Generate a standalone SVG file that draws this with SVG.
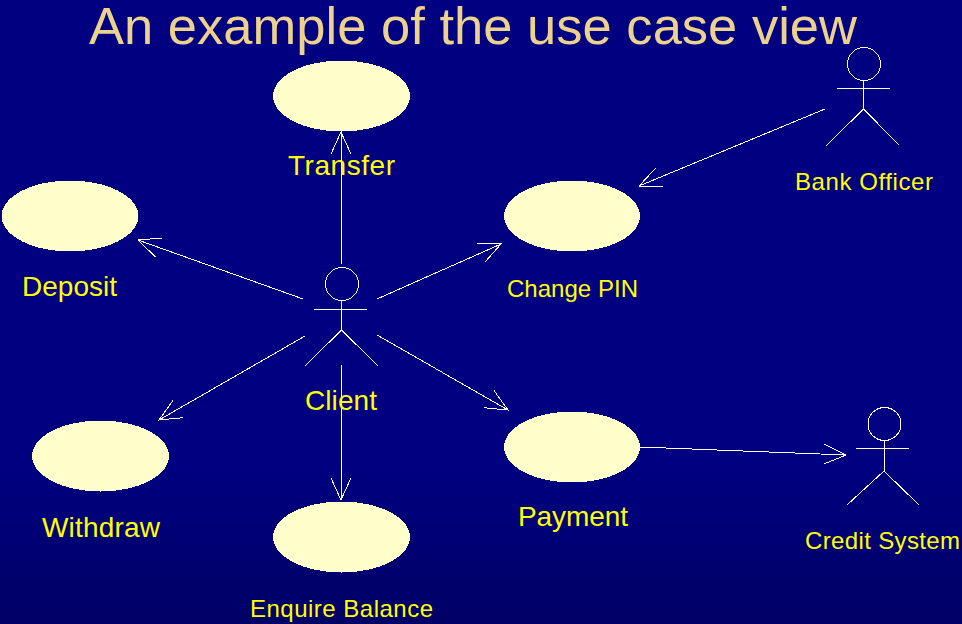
<svg xmlns="http://www.w3.org/2000/svg" width="962" height="624" viewBox="0 0 962 624">
<defs>
<linearGradient id="bg" x1="0" y1="0" x2="0" y2="1"><stop offset="0" stop-color="#000080"/><stop offset="0.75" stop-color="#000080"/><stop offset="1" stop-color="#000066"/></linearGradient>
<marker id="open" markerUnits="userSpaceOnUse" markerWidth="26" markerHeight="26" refX="23" refY="13" orient="auto"><path d="M1 3 L23 13 L1 23" fill="none" stroke="#fff" stroke-width="1" shape-rendering="crispEdges"/></marker>
</defs>
<style>
.uc{fill:#ffffcc;stroke:none;shape-rendering:crispEdges}
.ln{stroke:#fff;stroke-width:1;fill:none;shape-rendering:crispEdges}
.c{stroke:#fff;stroke-width:1;fill:none;marker-end:url(#open);shape-rendering:crispEdges}
text{font-family:"Liberation Sans",Arial,sans-serif;fill:#ffff00;text-anchor:middle}
.big{font-size:28px}
.sm{font-size:24px}
.title{font-size:52.500px;fill:#ecd28c}
</style>
<rect width="962" height="624" fill="url(#bg)"/>
<text class="title" x="473" y="43.500" textLength="768">An example of the use case view</text>
<g id="connectors">
<line class="c" x1="341" y1="264" x2="341" y2="132"/>
<line class="c" x1="303" y1="299" x2="138" y2="240"/>
<line class="c" x1="377" y1="299" x2="501" y2="244"/>
<line class="c" x1="305" y1="336" x2="159" y2="420"/>
<line class="c" x1="341" y1="365" x2="341" y2="500"/>
<line class="c" x1="377" y1="335" x2="508" y2="410"/>
<line class="c" x1="825" y1="109" x2="639" y2="186"/>
<line class="c" x1="640" y1="447" x2="846" y2="455"/>
</g>
<g id="transfer"><ellipse class="uc" cx="341.500" cy="96" rx="68.500" ry="35.500"/><text class="big" x="341.500" y="175" textLength="107">Transfer</text></g>
<g id="deposit"><ellipse class="uc" cx="70" cy="216" rx="68.500" ry="35.500"/><text class="big" x="69.500" y="296" textLength="95">Deposit</text></g>
<g id="change-pin"><ellipse class="uc" cx="572" cy="216" rx="68" ry="35.500"/><text class="sm" x="572.500" y="297" textLength="131">Change PIN</text></g>
<g id="withdraw"><ellipse class="uc" cx="100.500" cy="456" rx="68.500" ry="35.500"/><text class="big" x="101" y="537" textLength="118">Withdraw</text></g>
<g id="enquire-balance"><ellipse class="uc" cx="341.500" cy="537" rx="68.500" ry="35.500"/><text class="sm" x="341.500" y="617" textLength="183">Enquire Balance</text></g>
<g id="payment"><ellipse class="uc" cx="572" cy="447" rx="68" ry="35.500"/><text class="big" x="573" y="526" textLength="110">Payment</text></g>
<g id="client"><circle class="ln" cx="342" cy="284" r="16.500"/><path class="ln" d="M341.500 300V330M314 309.500H367M341.500 330L305 366M341.500 330L378 366"/><text class="big" x="341" y="410" textLength="72">Client</text></g>
<g id="bank-officer"><circle class="ln" cx="864" cy="64" r="16.500"/><path class="ln" d="M863.500 80V109M837 88.500H890M863.500 109L826 146M863.500 109L899 145"/><text class="sm" x="864" y="190" textLength="138">Bank Officer</text></g>
<g id="credit-system"><circle class="ln" cx="884.500" cy="424" r="16.500"/><path class="ln" d="M884 440V471M856 448.500H909M884 471L847 505M884 471L919 505"/><text class="sm" x="882.500" y="549" textLength="155">Credit System</text></g>
</svg>
